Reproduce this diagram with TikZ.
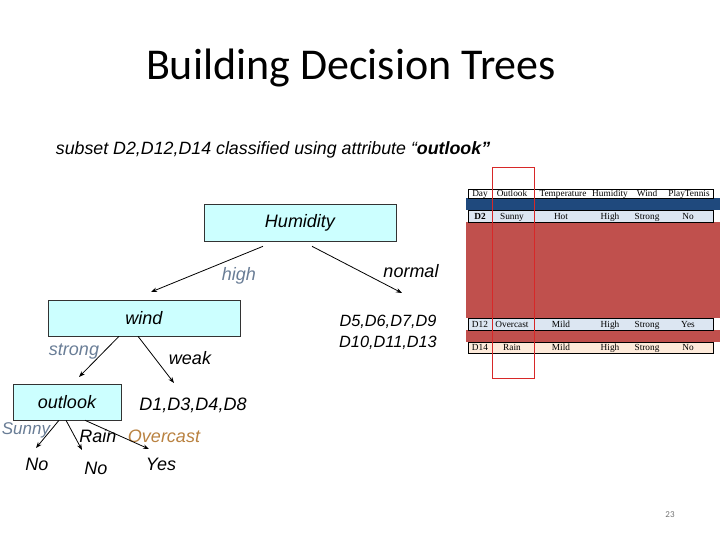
\documentclass[tikz,border=0pt]{standalone}
\usepackage{fontspec}
\setmainfont{Liberation Sans}
\newfontfamily\titlefont{Carlito}
\newfontfamily\tabfont{Liberation Serif}
\usetikzlibrary{arrows.meta}
\definecolor{boxfill}{RGB}{204,255,255}
\definecolor{slate}{RGB}{105,125,150}
\definecolor{ocast}{RGB}{185,130,65}
\definecolor{band}{RGB}{192,80,77}
\definecolor{navy}{RGB}{31,73,125}
\definecolor{rowblue}{RGB}{220,230,242}
\definecolor{rowpeach}{RGB}{253,234,218}
\definecolor{selred}{RGB}{215,40,40}
\begin{document}
\begin{tikzpicture}[x=1pt,y=-1pt,
  treebox/.style={draw=black!80, line width=0.6pt, fill=boxfill, inner sep=0pt,
    font=\fontsize{18}{21}\selectfont\itshape},
  lab/.style={inner sep=0pt, font=\fontsize{18}{21}\selectfont\itshape},
  arr/.style={-{Stealth[length=6pt,width=4.5pt]}, line width=0.8pt},
  tab/.style={inner sep=0pt, font=\tabfont\fontsize{9.3}{10}\selectfont},
  rowline/.style={draw=black, line width=0.7pt}]
\useasboundingbox (0,0) rectangle (720,540);

% title and subtitle
\node[inner sep=0pt, font=\titlefont\fontsize{44}{48}\selectfont] (title) at (351,68) {Building Decision Trees};
\node[lab, font=\fontsize{17.8}{20}\selectfont\itshape] (sub) at (273,150)
  {subset D2,D12,D14 classified using attribute “\textbf{outlook”}};

% tree boxes
\node[treebox, minimum width=192pt, minimum height=37pt] (hum) at (300,222.5) {Humidity};
\node[treebox, minimum width=192pt, minimum height=36pt] (wind) at (144,318) {wind};
\node[treebox, minimum width=108pt, minimum height=36pt] (out) at (67,402) {outlook};

% leaf texts
\node[lab, align=center, font=\fontsize{16.3}{21}\selectfont\itshape] (dn) at (388,332) {D5,D6,D7,D9\\D10,D11,D13};
\node[lab] (d1) at (193,405) {D1,D3,D4,D8};
\node[lab] (no1) at (37,464) {No};
\node[lab] (no2) at (96,468) {No};
\node[lab] (yes) at (161,464) {Yes};

% edge labels
\node[lab, text=slate] (lhigh) at (239,276) {high};
\node[lab] (lnormal) at (411,271) {normal};
\node[lab, text=slate] (lstrong) at (74,352) {strong};
\node[lab] (lweak) at (190,358) {weak};
\node[lab, text=slate, font=\fontsize{17}{20}\selectfont\itshape] (lsunny) at (26,430) {Sunny};
\node[lab] (lrain) at (98,436) {Rain};
\node[lab, text=ocast] (lover) at (164,436) {Overcast};

% arrow end points
\coordinate (eHigh) at (151,292);
\coordinate (eNormal) at (402,293);
\coordinate (eStrong) at (79,377);
\coordinate (eWeak) at (174,383);
\coordinate (eSunny) at (36,448);
\coordinate (eRain) at (82,450);
\coordinate (eOver) at (149,449);

% connectors
\draw[arr] ([xshift=-37pt,yshift=-5pt]hum.south) -- (eHigh);
\draw[arr] ([xshift=12pt,yshift=-5pt]hum.south) -- (eNormal);
\draw[arr] ([xshift=-25pt]wind.south) -- (eStrong);
\draw[arr] ([xshift=-6pt]wind.south) -- (eWeak);
\draw[arr] ([xshift=-8pt]out.south) -- (eSunny);
\draw[arr] ([xshift=-1pt]out.south) -- (eRain);
\draw[arr] ([xshift=18pt]out.south) -- (eOver);

% table
\fill[navy] (466,198) rectangle (720,210);
\fill[band] (466,222) rectangle (720,318);
\fill[band] (466,330) rectangle (720,342);
\draw[rowline, fill=white] (468,189) rectangle (713,198);
\draw[rowline, fill=rowblue] (468,210) rectangle (713,222);
\draw[rowline, fill=rowblue] (468,318) rectangle (713,330);
\draw[rowline, fill=rowpeach] (468,342) rectangle (713,353);

\foreach \x/\t in {480/Day,512/Outlook,563/Temperature,610/Humidity,647/Wind,689/PlayTennis}
  \node[tab, anchor=base] at (\x,196.5) {\t};
\foreach \x/\t in {480/\textbf{D2},512/Sunny,561/Hot,610/High,647/Strong,688/No}
  \node[tab, anchor=base] at (\x,219) {\t};
\foreach \x/\t in {480/D12,512/Overcast,561/Mild,610/High,647/Strong,688/Yes}
  \node[tab, anchor=base] at (\x,327) {\t};
\foreach \x/\t in {480/D14,512/Rain,561/Mild,610/High,647/Strong,688/No}
  \node[tab, anchor=base] at (\x,350.5) {\t};

% selection rectangle
\draw[selred, line width=1pt] (492,168) rectangle (534,378);

% page number
\node[inner sep=0pt, text=black!55, font=\titlefont\fontsize{9}{10}\selectfont] (pg) at (670,515) {23};
\end{tikzpicture}
\end{document}
